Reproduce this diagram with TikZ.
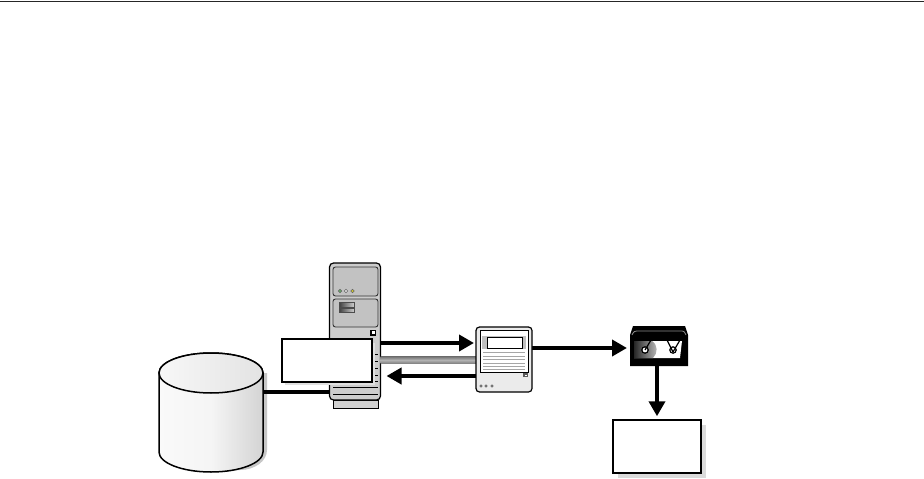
\documentclass[tikz,border=0pt]{standalone}
\usetikzlibrary{arrows.meta,calc}
\tikzset{
  boxnode/.style={draw=black,line width=1.5pt,fill=white,inner sep=0pt,minimum width=#1},
  boxnode/.default=88pt,
  place/.style={inner sep=0pt,outer sep=0pt},
  flow/.style={line width=4.5pt,-{Triangle[length=15pt,width=16pt]}},
  link/.style={line width=4pt},
  trim/.style={line width=.7pt,draw=black!70},
  led/.style={circle,inner sep=0pt,minimum size=3.5pt,draw=black!60,line width=.5pt}
}
\begin{document}
\begin{tikzpicture}[x=1pt,y=-1pt]
\useasboundingbox (0,0) rectangle (924,479);
\fill[white] (0,0) rectangle (924,479);
% top rule
\coordinate (ruleL) at (0,1);
\coordinate (ruleR) at (924,1);
\draw[line width=1pt,black!85] (ruleL) -- (ruleR);

% anchors (invisible nodes holding the geometry)
\node[place,minimum width=104pt,minimum height=119pt] (db) at (211,412.5) {};
\node[place,minimum width=51.5pt,minimum height=137pt] (srv) at (355.25,331.5) {};
\node[place,minimum width=56pt,minimum height=65pt] (dev) at (504,359.5) {};
\node[place,minimum width=58pt,minimum height=40pt] (tape) at (659,346) {};

% database
\fill[black!22] (200,373) -- (200,470) -- (240,470) arc[x radius=27,y radius=20,start angle=90,end angle=0] -- (267,373) -- cycle;
\draw[line width=1.5pt,left color=black!2,right color=black!17,middle color=black!4]
  (db.north west |- 0,373) -- (db.south west |- 0,452)
  arc[x radius=52,y radius=20,start angle=180,end angle=0]
  -- (db.north east |- 0,373)
  arc[x radius=52,y radius=20,start angle=0,end angle=-180] -- cycle;
\draw[line width=1.5pt,left color=black!3,right color=black!11]
  (211,373) ellipse [x radius=52,y radius=20];

% server tower
\draw[line width=1pt,fill=black!18] (333,400) rectangle (378,408);
\draw[line width=1.2pt,fill=black!20,rounded corners=4pt] (srv.north west) rectangle (380.5,400);
\draw[line width=.9pt,black!80,fill=black!24,rounded corners=2.5pt] (333,267) rectangle (378,296);
\draw[line width=.9pt,black!80,fill=black!24,rounded corners=2.5pt] (333,299) rectangle (378,327);
\node[led,fill=green!45!black!60] at (340,291) {};
\node[led,fill=black!10] at (346,291) {};
\node[led,fill=yellow!80!black] at (352.5,291) {};
\shade[left color=black!75,right color=black!20,draw=black!70,line width=.5pt] (339,302) rectangle (354,307);
\shade[left color=black!75,right color=black!20,draw=black!70,line width=.5pt] (339,308.5) rectangle (354,312.5);
\draw[line width=1.3pt,fill=white] (371,330.5) rectangle (375.5,335);
\foreach \yy in {354,361,368,375,381}{\draw[trim,black] (370,\yy) -- (378,\yy);}
\foreach \yy in {387,394}{\draw[trim,black] (333,\yy) -- (378,\yy);}

% gradient band server to device
\shade[top color=black!55,bottom color=black!50,middle color=black!30] (380.5,356.5) rectangle (476,363.5);

% connectors
\coordinate (ya) at (0,343);
\coordinate (yb) at (0,376);
\coordinate (yc) at (0,348);
\coordinate (yd) at (0,392);
\draw[link] (db.east |- yd) -- (srv.west |- yd);
\draw[flow,shorten >=2pt] (srv.east |- ya) -- (dev.west |- ya);
\draw[flow,shorten >=-.5pt] (dev.west |- yb) -- (387,376);
\draw[flow,shorten >=3pt] (dev.east |- yc) -- (tape.west |- yc);

% device
\draw[line width=1.2pt,fill=black!8,rounded corners=3.5pt] (dev.north west) rectangle (dev.south east);
\draw[line width=1pt,fill=white] (480,330) rectangle (528,372);
\fill[black!25] (482,336) rectangle (526,349);
\draw[line width=1pt,fill=white] (487,337) rectangle (522,348);
\foreach \yy in {352,356,359,363,366,369}{\draw[line width=.6pt,black!35] (483,\yy) -- (525,\yy);}
\fill[black!65] (523,373) rectangle (528,377);
\fill[white] (525,374.5) rectangle (526.5,375.5);
\foreach \xx in {481,486,492}{\node[led,fill=black!45,minimum size=2.5pt] at (\xx,386) {};}

% tape
\fill[black] (tape.south west) -- (630,335) -- (633,326) -- (685,326) -- (688,335) -- (tape.south east) -- cycle;
\draw[line width=.8pt,black!45] (632,335) .. controls (634,331) .. (640,331) -- (680,331) .. controls (684,331) .. (686,335);
\fill[white] (634,341) -- (682,341) -- (680,358) -- (634,358) -- cycle;
\shade[left color=black!85,right color=black!25] (634,341) -- (652,341) .. controls (658,345) and (658,353) .. (653,358) -- (634,358) -- cycle;
\draw[line width=1.2pt,fill=white] (645,350) circle (3.2pt);
\draw[line width=1.2pt,fill=white] (673,350) circle (3.2pt);
\draw[line width=1.2pt] (645,350) -- (651,340);
\draw[line width=1.2pt] (673,352) -- (680,340);
\draw[line width=1.2pt] (673,352) -- (667,340);

% label box on server
\fill[black!12] (285,343) rectangle (375,385);
\node[boxnode=90pt,minimum height=43pt] (lbl) at (327,360.5) {};

% output box
\fill[black!14] (618,425) rectangle (706,478);
\node[boxnode=88pt,minimum height=53pt] (out) at (657,446.5) {};
\draw[flow,shorten >=3pt] (tape.south -| out.north) -- (out.north);
\end{tikzpicture}
\end{document}
